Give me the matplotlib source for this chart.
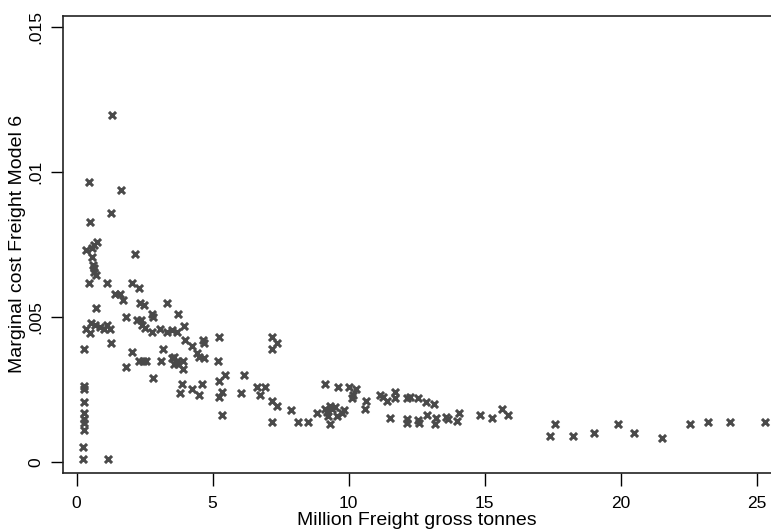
import matplotlib
matplotlib.use("Agg")
import matplotlib.pyplot as plt
import numpy as np

plt.rcParams['font.family'] = ['Liberation Sans', 'DejaVu Sans']

# freight volume (million gross tonnes) and marginal cost, model 6
freight = [
    1.31, 0.45, 1.62, 1.25, 0.49, 0.76, 0.65, 0.55, 0.35, 0.55, 2.14,
    0.61, 0.65, 0.63, 0.70, 0.45, 1.10, 2.02, 2.29,
    1.41, 1.59, 1.70, 2.33, 2.49, 3.31, 0.70, 2.78, 2.82, 1.81,
    2.21, 2.36, 2.41, 2.51, 2.78, 3.06, 3.31, 3.51,
    0.53, 0.67, 0.86, 1.01, 1.10, 1.22, 0.33, 0.49,
    1.26, 0.28, 2.04, 3.16, 2.29, 2.45, 2.57, 3.09, 3.51, 3.59, 1.81, 2.82,
    0.27, 0.27, 0.27, 0.27, 0.27, 0.27, 0.27, 0.24, 0.24, 1.14,
    3.74, 3.94, 3.68, 3.98, 4.26, 4.63, 4.68, 5.24,
    4.43, 4.51, 4.68, 3.58, 3.70, 3.90, 3.74, 3.90, 5.21,
    7.17, 7.38, 7.17, 5.45, 5.24, 6.15, 3.86, 3.82, 4.26, 4.51, 4.62,
    5.33, 5.24, 6.03, 6.64, 6.92, 6.76, 7.17, 7.38, 5.33,
    7.90, 7.17, 8.15, 8.51, 9.13, 9.62, 10.02, 10.29, 10.17, 10.11,
    10.64, 10.60, 11.15, 11.27, 11.40, 11.52, 8.85,
    9.13, 9.21, 9.31, 9.38, 9.50, 9.25, 9.31, 9.56, 9.83, 9.74,
    11.70, 11.70, 12.15, 12.25, 12.56, 12.84, 13.14,
    12.13, 12.13, 12.56, 12.60, 12.89, 13.21, 13.17, 13.58, 13.66, 13.97, 14.07,
    14.83, 15.29, 15.63, 15.87,
    17.40, 17.59, 18.26, 19.03, 19.91, 20.49, 21.51, 22.55, 23.22, 24.02, 25.31,
]
mcost = [
    0.01198, 0.00968, 0.00938, 0.00858, 0.00828, 0.00761, 0.00748, 0.00740,
    0.00731, 0.00708, 0.00717,
    0.00680, 0.00668, 0.00656, 0.00645, 0.00618, 0.00618, 0.00618, 0.00602,
    0.00579, 0.00579, 0.00559, 0.00549, 0.00541, 0.00549, 0.00530, 0.00510,
    0.00499, 0.00499,
    0.00490, 0.00490, 0.00472, 0.00461, 0.00449, 0.00458, 0.00449, 0.00455,
    0.00480, 0.00472, 0.00467, 0.00458, 0.00472, 0.00458, 0.00458, 0.00444,
    0.00409, 0.00389, 0.00380, 0.00389, 0.00349, 0.00349, 0.00349, 0.00349,
    0.00358, 0.00338, 0.00329, 0.00291,
    0.00262, 0.00251, 0.00208, 0.00170, 0.00147, 0.00136, 0.00110, 0.00051,
    0.00009, 0.00009,
    0.00510, 0.00470, 0.00449, 0.00421, 0.00400, 0.00421, 0.00409, 0.00430,
    0.00377, 0.00361, 0.00358, 0.00361, 0.00349, 0.00349, 0.00338, 0.00320,
    0.00349,
    0.00430, 0.00409, 0.00389, 0.00300, 0.00280, 0.00300, 0.00269, 0.00239,
    0.00251, 0.00231, 0.00269,
    0.00242, 0.00223, 0.00239, 0.00260, 0.00260, 0.00231, 0.00211, 0.00193,
    0.00162,
    0.00179, 0.00139, 0.00139, 0.00139, 0.00269, 0.00260, 0.00260, 0.00251,
    0.00231, 0.00220,
    0.00211, 0.00182, 0.00231, 0.00223, 0.00211, 0.00151, 0.00170,
    0.00182, 0.00173, 0.00193, 0.00182, 0.00189, 0.00159, 0.00131, 0.00159,
    0.00179, 0.00168,
    0.00242, 0.00220, 0.00220, 0.00223, 0.00220, 0.00208, 0.00200,
    0.00147, 0.00136, 0.00145, 0.00136, 0.00162, 0.00151, 0.00131, 0.00156,
    0.00147, 0.00142, 0.00170,
    0.00162, 0.00151, 0.00182, 0.00162,
    0.00090, 0.00131, 0.00090, 0.00101, 0.00131, 0.00101, 0.00082, 0.00131,
    0.00139, 0.00139, 0.00139,
]

x_ticks = [0, 5, 10, 15, 20, 25]
y_ticks = [0, 0.005, 0.01, 0.015]
y_labels = ['0', '.005', '.01', '.015']

fig = plt.figure(figsize=(7.71, 5.31), dpi=100)
ax = fig.add_axes([0.0817, 0.1092, 0.9183, 0.8616])

ax.scatter(freight, mcost, marker='x', s=26, linewidths=2.2, color='#4a4a4a')

ax.set_xlim(-0.5, 25.53)
ax.set_ylim(-0.00038, 0.01541)
ax.set_xticks(x_ticks)
ax.set_xticklabels([str(t) for t in x_ticks])
ax.set_yticks(y_ticks)
ax.set_yticklabels(y_labels, rotation=90, va='center')

ax.tick_params(axis='both', direction='out', length=9, width=1, labelsize=12.5,
               color='black')
ax.tick_params(axis='x', pad=7.5)
ax.tick_params(axis='y', pad=5)

for side in ['left', 'bottom', 'top']:
    ax.spines[side].set_linewidth(1.2)
    ax.spines[side].set_color('#222222')
ax.spines['right'].set_visible(False)

ax.set_xlabel('Million Freight gross tonnes', fontsize=14)
ax.set_ylabel('Marginal cost Freight Model 6', fontsize=14)
ax.xaxis.label.set_va('center')
ax.yaxis.label.set_va('center')
ax.xaxis.set_label_coords(0.5, -0.1027)
ax.yaxis.set_label_coords(-0.0636, 0.5)

fig.savefig('out.png', dpi=100)
